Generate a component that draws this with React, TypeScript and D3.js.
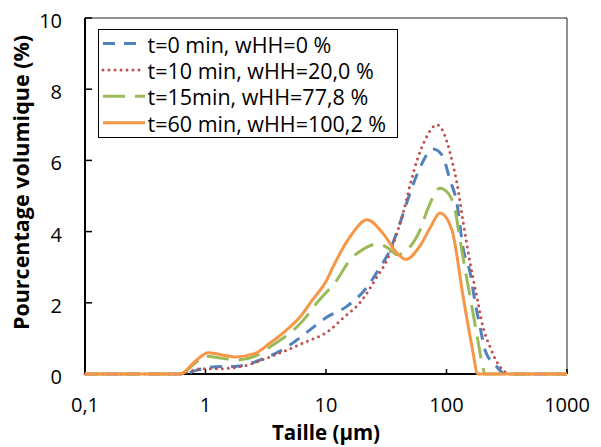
import React from "react";
import * as d3 from "d3";

const W = 601;
const H = 447;

type Pt = [number, number];

// t=0 min, wHH=0 %
const sizes0: number[] = [0.1, 0.65, 0.85, 1.15, 1.83, 2.83, 4.75, 7.36, 10.2, 14.9, 21.9, 28.1, 34.0, 41.1, 49.8, 60.3, 77.3, 91.8, 107, 122, 137, 157, 173, 190, 209, 262, 306, 1000];
const vals0: number[] = [0, 0, 0.11, 0.2, 0.22, 0.39, 0.76, 1.24, 1.6, 1.9, 2.44, 3.0, 3.48, 4.24, 5.08, 5.8, 6.32, 6.15, 5.45, 4.8, 3.55, 2.84, 2.0, 1.32, 0.67, 0.2, 0, 0];

// t=10 min, wHH=20,0 %
const sizes10: number[] = [0.1, 0.614, 0.743, 0.953, 1.32, 1.93, 3.43, 6.45, 10.8, 13.8, 19.1, 26.5, 32.1, 38.8, 43.6, 49.8, 56.9, 66.3, 83.4, 101, 111, 122, 137, 157, 179, 201, 230, 262, 306, 336, 1000];
const vals10: number[] = [0, 0, 0.08, 0.15, 0.15, 0.2, 0.48, 0.87, 1.24, 1.57, 2.0, 2.73, 3.2, 3.96, 4.52, 5.3, 6.0, 6.57, 7.0, 6.52, 6.0, 5.37, 4.3, 3.12, 2.16, 1.32, 0.76, 0.34, 0.06, 0, 0];

// t=15min, wHH=77,8 %
const sizes15: number[] = [0.1, 0.614, 0.818, 0.99, 1.32, 1.83, 2.58, 3.43, 6.45, 8.42, 12.3, 15.8, 20.3, 26.5, 34.0, 38.8, 49.8, 60.3, 70.2, 88.3, 103, 118, 129, 148, 166, 182, 197, 209, 1000];
const vals15: number[] = [0, 0, 0.3, 0.5, 0.45, 0.39, 0.5, 0.76, 1.5, 2.0, 2.64, 3.2, 3.5, 3.65, 3.5, 3.35, 3.57, 4.04, 4.65, 5.22, 5.08, 4.6, 3.8, 2.64, 1.71, 0.95, 0.31, 0, 0];

// t=60 min, wHH=100,2 %
const sizes60: number[] = [0.1, 0.614, 0.818, 1.05, 1.32, 1.76, 2.58, 3.43, 4.57, 6.09, 7.8, 10.0, 11.4, 15.8, 21.9, 29.7, 38.8, 46.1, 60.3, 73.0, 88.3, 111, 137, 163, 182, 1000];
const vals60: number[] = [0, 0, 0.35, 0.6, 0.55, 0.48, 0.58, 0.87, 1.2, 1.6, 2.1, 2.6, 3.0, 3.85, 4.33, 3.95, 3.4, 3.22, 3.6, 4.1, 4.52, 4.04, 2.2, 0.76, 0, 0];

const seriesNames: string[] = [
  "t=0 min, wHH=0 %",
  "t=10 min, wHH=20,0 %",
  "t=15min, wHH=77,8 %",
  "t=60 min, wHH=100,2 %",
];
const seriesColors: string[] = ["#4F81BD", "#C0504D", "#9BBB59", "#F79646"];
const seriesDash: string[] = ["12 9", "0 6", "22 10", ""];
const seriesCap: string[] = ["butt", "round", "butt", "butt"];

const xTicks: number[] = [0.1, 1, 10, 100, 1000];
const xTickLabels: string[] = ["0,1", "1", "10", "100", "1000"];
const yTicks: number[] = [0, 2, 4, 6, 8, 10];

const FONT = "'Open Sans', Lato, sans-serif";

export default function App() {
  const left = 85;
  const right = 567;
  const top = 18;
  const bottom = 374;

  const x = d3.scaleLog().domain([0.1, 1000]).range([left, right]);
  const y = d3.scaleLinear().domain([0, 10]).range([bottom, top]);

  const data: Pt[][] = [
    sizes0.map((s, i) => [s, vals0[i]] as Pt),
    sizes10.map((s, i) => [s, vals10[i]] as Pt),
    sizes15.map((s, i) => [s, vals15[i]] as Pt),
    sizes60.map((s, i) => [s, vals60[i]] as Pt),
  ];

  const line = d3
    .line<Pt>()
    .x((d) => x(d[0]))
    .y((d) => y(d[1]))
    .curve(d3.curveMonotoneX);

  const legX = 98.5;
  const legY = 29.5;
  const legW = 299;
  const legH = 108;
  const rowH = 26.4;

  return (
    <svg
      width={W}
      height={H}
      style={{ position: "absolute", left: 0, top: 0, background: "#fff" }}
      fontFamily={FONT}
    >
      <rect x={0} y={0} width={W} height={H} fill="#fff" />
      {/* frame */}
      <line x1={left} x2={right} y1={top} y2={top} stroke="#222" strokeWidth={1} />
      <line x1={right} x2={right} y1={top} y2={bottom} stroke="#222" strokeWidth={1} />

      {/* y ticks */}
      {yTicks.map((t) => (
        <g key={"y" + t}>
          <line x1={left} x2={left + 7} y1={y(t)} y2={y(t)} stroke="#000" strokeWidth={1.5} />
          <text x={62} y={y(t) + 10} textAnchor="end" fontSize={20} fill="#000">
            {t}
          </text>
        </g>
      ))}
      {/* x ticks */}
      {xTicks.map((t, i) => (
        <g key={"x" + t}>
          <line x1={x(t)} x2={x(t)} y1={bottom} y2={bottom - 5} stroke="#000" strokeWidth={1.5} />
          <text x={x(t)} y={411.5} textAnchor="middle" fontSize={20} fill="#000">
            {xTickLabels[i]}
          </text>
        </g>
      ))}

      {/* axes */}
      <line x1={left} x2={left} y1={top} y2={bottom + 1} stroke="#000" strokeWidth={2} />
      <line x1={left - 1} x2={right} y1={bottom} y2={bottom} stroke="#000" strokeWidth={2} />

      {/* series */}
      {data.map((d, i) => (
        <path
          key={"s" + i}
          d={line(d) || ""}
          fill="none"
          stroke={seriesColors[i]}
          strokeWidth={3}
          strokeDasharray={seriesDash[i] || undefined}
          strokeLinecap={seriesCap[i] as any}
          strokeLinejoin="round"
        />
      ))}

      {/* axis titles */}
      <text x={326} y={439.5} textAnchor="middle" fontSize={20.5} fontWeight="bold" fill="#000">
        Taille (µm)
      </text>
      <text
        transform={`translate(28.5,182.5) rotate(-90)`}
        textAnchor="middle"
        fontSize={21.5}
        fontWeight="bold"
        fill="#000"
      >
        Pourcentage volumique (%)
      </text>

      {/* legend */}
      <rect x={legX} y={legY} width={legW} height={legH} fill="#fff" stroke="#000" strokeWidth={1} />
      {seriesNames.map((n, i) => {
        const base = 52.5 + i * rowH;
        const ly = base - 9;
        return (
          <g key={"l" + i}>
            <line
              x1={103}
              x2={145}
              y1={ly}
              y2={ly}
              stroke={seriesColors[i]}
              strokeWidth={3}
              strokeDasharray={seriesDash[i] || undefined}
              strokeLinecap={seriesCap[i] as any}
            />
            <text x={147.5} y={base} fontSize={21.5} fill="#000">
              {n}
            </text>
          </g>
        );
      })}
    </svg>
  );
}
